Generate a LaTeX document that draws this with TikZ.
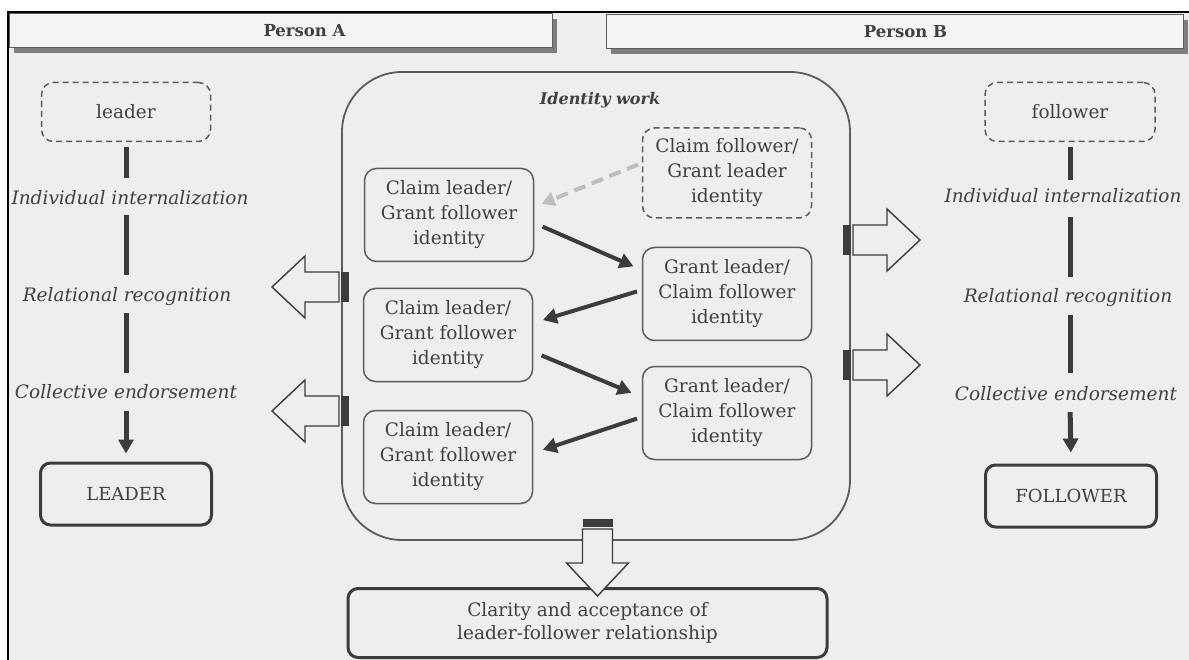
\documentclass[tikz,border=0pt]{standalone}
\usepackage{fontspec}
\setmainfont{DejaVu Serif}
\usetikzlibrary{arrows.meta,shadows}
\definecolor{bg}{HTML}{EEEEEE}
\definecolor{ink}{HTML}{404040}
\definecolor{edge}{HTML}{5C5C5C}
\definecolor{dark}{HTML}{3C3C3C}
\definecolor{hint}{HTML}{BDBDBD}
\definecolor{headfill}{HTML}{F4F4F4}
\definecolor{shadowc}{HTML}{7E7E7E}

\tikzset{
  lbl/.style={font=\fontsize{18.5}{22}\selectfont\itshape, inner sep=0pt,
    text height=13pt, text depth=3pt, text=ink},
  headbox/.style={draw=edge, line width=1pt, fill=headfill, inner sep=0pt,
    minimum height=34pt, font=\fontsize{16.5}{19}\selectfont\bfseries, text=ink,
    drop shadow={shadow xshift=5pt, shadow yshift=-5pt, fill=shadowc, opacity=1}},
  idbox/.style={draw=edge, line width=1.5pt, rounded corners=12pt,
    minimum width=169pt, minimum height=93pt, align=center, inner sep=0pt,
    font=\fontsize{18.5}{25}\selectfont, text=ink},
  idboxdash/.style={idbox, dash pattern=on 6pt off 4pt},
  roleboxdash/.style={draw=edge, line width=1.5pt, rounded corners=12pt,
    dash pattern=on 6pt off 4pt, minimum width=169pt, minimum height=59pt,
    inner sep=0pt, font=\fontsize{18.5}{22}\selectfont, text=ink},
  rolebox/.style={draw=dark, line width=3pt, rounded corners=10pt,
    minimum width=171pt, minimum height=62pt, inner sep=0pt,
    font=\fontsize{18}{22}\selectfont, text=ink},
  bar/.style={draw=dark, line width=5pt},
  bararrow/.style={bar, -{Triangle[length=14pt,width=15pt]}},
  midarrow/.style={draw=dark, line width=4pt, -{Triangle[length=14pt,width=15pt]}},
  hintarrow/.style={draw=hint, line width=4pt, dash pattern=on 12pt off 7pt,
    -{Triangle[length=13pt,width=14pt]}},
  arrowedge/.style={draw=dark, line width=1.4pt, fill=bg, line join=miter},
  pics/blockarr/.style={code={
    \fill[dark] (0,-15) rectangle (8,15);
    \draw[arrowedge] (10,-15) -- (44,-15) -- (44,-31) -- (77,0) -- (44,31)
      -- (44,15) -- (10,15) -- cycle;
  }},
}

\begin{document}
\begin{tikzpicture}[x=1pt,y=-1pt]
\useasboundingbox (0,0) rectangle (1189,660);
\fill[white] (0,0) rectangle (1189,660);

% page panel with its frame on the top and left
\fill[bg] (8,12) rectangle (1189,660);
\draw[black, line width=1.6pt] (8,660) -- (8,12) -- (1189,12);

% column headers (titles sit a little right of the box centre)
\node[headbox, minimum width=543pt] (personA) at (280.5,31) {\hspace*{48pt}Person A};
\node[headbox, minimum width=577pt] (personB) at (894.5,32) {\hspace*{22pt}Person B};

% identity work area
\node[draw=edge, line width=1.8pt, rounded corners=60pt,
  minimum width=508pt, minimum height=468pt, inner sep=0pt] (work) at (596,306) {};
\node[font=\fontsize{16}{19}\selectfont\bfseries\itshape, text=ink, inner sep=0pt]
  (worktitle) at (600,100) {Identity work};

% claims and grants inside the identity work area
\node[idbox] (claimA1) at (449,215) {Claim leader/\\Grant follower\\identity};
\node[idbox] (claimA2) at (448,335) {Claim leader/\\Grant follower\\identity};
\node[idbox] (claimA3) at (448,457) {Claim leader/\\Grant follower\\identity};
\node[idboxdash, minimum height=90pt] (claimB0) at (727,173) {Claim follower/\\Grant leader\\identity};
\node[idbox] (grantB1) at (727,294) {Grant leader/\\Claim follower\\identity};
\node[idbox] (grantB2) at (727,413) {Grant leader/\\Claim follower\\identity};

\draw[hintarrow, shorten <=4pt, shorten >=8pt]
  ([yshift=10pt]claimB0.west) -- ([yshift=8pt]claimA1.east);
\draw[midarrow, shorten <=9pt, shorten >=9pt]
  ([yshift=-8pt]claimA1.east) -- ([yshift=24pt]grantB1.west);
\draw[midarrow, shorten <=5pt, shorten >=10pt]
  ([yshift=4pt]grantB1.west) -- ([yshift=12pt]claimA2.east);
\draw[midarrow, shorten <=9pt, shorten >=11pt]
  ([yshift=-17pt]claimA2.east) -- ([yshift=16pt]grantB2.west);
\draw[midarrow, shorten <=5pt, shorten >=10pt]
  ([yshift=-4pt]grantB2.west) -- ([yshift=4pt]claimA3.east);

% Person A column
\node[roleboxdash] (leaderA) at (126,112) {leader};
\node[lbl] (indA) at (130,200) {Individual internalization};
\node[lbl] (relA) at (127,297) {Relational recognition};
\node[lbl] (colA) at (126,393) {Collective endorsement};
\node[rolebox] (leaderFinal) at (126,494) {LEADER};
\draw[bar, shorten <=5pt, shorten >=14pt] (leaderA.south) -- (leaderA.south |- indA.north);
\draw[bar, shorten <=7pt, shorten >=14pt] (leaderA.south |- indA.south) -- (leaderA.south |- relA.north);
\draw[bar, shorten <=8pt, shorten >=12pt] (leaderA.south |- relA.south) -- (leaderA.south |- colA.north);
\draw[bararrow, shorten <=10pt, shorten >=8pt] (leaderA.south |- colA.south) -- (leaderFinal.north);

% Person B column
\node[roleboxdash, minimum width=170pt] (followerB) at (1070,112) {follower};
\node[lbl] (indB) at (1063,198) {Individual internalization};
\node[lbl] (relB) at (1068,298) {Relational recognition};
\node[lbl] (colB) at (1066,395) {Collective endorsement};
\node[rolebox] (followerFinal) at (1071,496) {FOLLOWER};
\draw[bar, shorten <=5pt, shorten >=10pt] (followerB.south) -- (followerB.south |- indB.north);
\draw[bar, shorten <=11pt, shorten >=13pt] (followerB.south |- indB.south) -- (followerB.south |- relB.north);
\draw[bar, shorten <=9pt, shorten >=14pt] (followerB.south |- relB.south) -- (followerB.south |- colB.north);
\draw[bararrow, shorten <=9pt, shorten >=11pt] (followerB.south |- colB.south) -- (followerFinal.north);

% outcome
\node[draw=dark, line width=3pt, rounded corners=10pt, minimum width=479pt,
  minimum height=69pt, align=center, inner sep=0pt,
  font=\fontsize{18.5}{23}\selectfont, text=ink] (outcome) at (587.5,623)
  {Clarity and acceptance of\\leader-follower relationship};

% block arrows leaving the identity work area
\pic[rotate=180] at (349,287) {blockarr};
\pic[rotate=180] at (349,411) {blockarr};
\pic at (843,240) {blockarr};
\pic at (843,365) {blockarr};
\pic[rotate=-90] at (597.5,519) {blockarr};
\end{tikzpicture}
\end{document}
